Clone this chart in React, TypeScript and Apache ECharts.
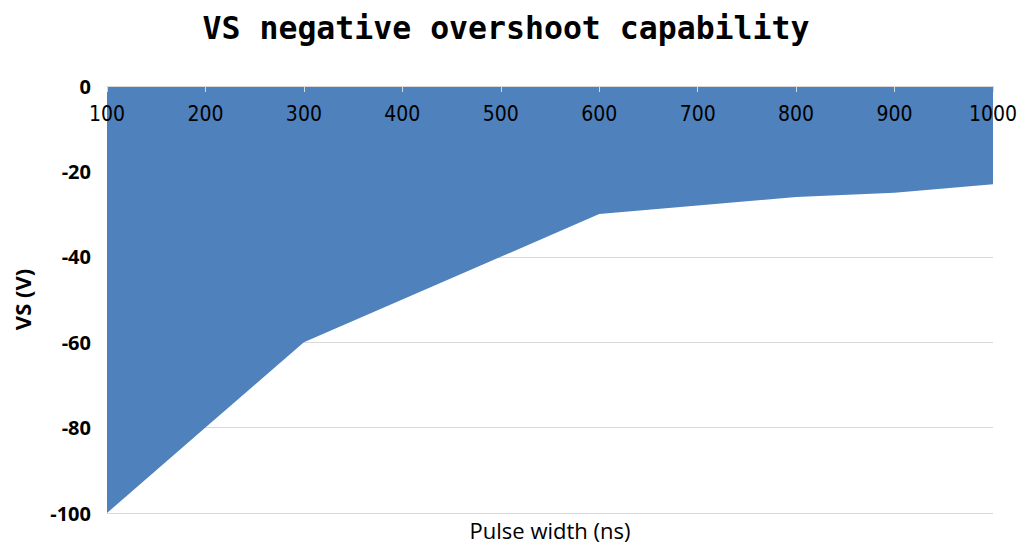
import React, { useEffect, useRef } from "react";
import * as echarts from "echarts";

const categories = ["100", "200", "300", "400", "500", "600", "700", "800", "900", "1000"];
const vsValues = [-100, -80, -60, -50, -40, -30, -28, -26, -25, -23];
const yMin = -100;
const yMax = 0;
const yInterval = 20;
const titleText = "VS negative overshoot capability";
const yAxisName = "VS (V)";
const xAxisName = "Pulse width (ns)";

export default function App() {
  const ref = useRef<HTMLDivElement>(null);
  useEffect(() => {
    if (!ref.current) return;
    const chart = echarts.init(ref.current, null, { renderer: "svg" });
    chart.setOption({
      animation: false,
      backgroundColor: "#ffffff",
      title: {
        text: titleText,
        left: 501,
        top: 7,
        textAlign: "center",
        textStyle: {
          fontFamily: "DejaVu Sans Mono",
          fontWeight: "bold",
          fontSize: 31.5,
          color: "#000000",
        },
      },
      grid: { left: 107, right: 30, top: 86, bottom: 39, containLabel: false },
      graphic: [
        {
          type: "text",
          x: 550,
          y: 530,
          style: {
            text: xAxisName,
            fontFamily: "Open Sans",
            fontSize: 22,
            fill: "#000000",
            align: "center",
            verticalAlign: "middle",
          },
        },
      ],
      xAxis: {
        type: "category",
        data: categories,
        position: "top",
        boundaryGap: false,
        axisLine: { show: true, lineStyle: { color: "#d9d9d9", width: 1 } },
        axisTick: { show: true, inside: true, length: 6, lineStyle: { color: "#d9d9d9" } },
        axisLabel: {
          inside: true,
          margin: 17,
          fontFamily: "Liberation Sans Narrow, DejaVu Sans Condensed, sans-serif",
          fontSize: 21,
          color: "#000000",
          verticalAlign: "top",
        },
        splitLine: { show: false },
        z: 10,
      },
      yAxis: {
        type: "value",
        min: yMin,
        max: yMax,
        interval: yInterval,
        name: yAxisName,
        nameLocation: "middle",
        nameGap: 74,
        nameTextStyle: {
          fontFamily: "Open Sans",
          fontWeight: "bold",
          fontSize: 22,
          color: "#000000",
        },
        axisLine: { show: false },
        axisTick: { show: false },
        axisLabel: {
          margin: 16,
          fontFamily: "Open Sans",
          fontWeight: "bold",
          fontSize: 20,
          color: "#000000",
        },
        splitLine: { show: true, lineStyle: { color: "#d9d9d9", width: 1 } },
      },
      series: [
        {
          type: "line",
          data: vsValues,
          symbol: "none",
          lineStyle: { width: 0 },
          areaStyle: { color: "#4f81bd", opacity: 1, origin: "end" },
        },
      ],
    });
    return () => chart.dispose();
  }, []);
  return (
    <div
      ref={ref}
      style={{ position: "fixed", left: 0, top: 0, width: 1023, height: 552 }}
    />
  );
}
